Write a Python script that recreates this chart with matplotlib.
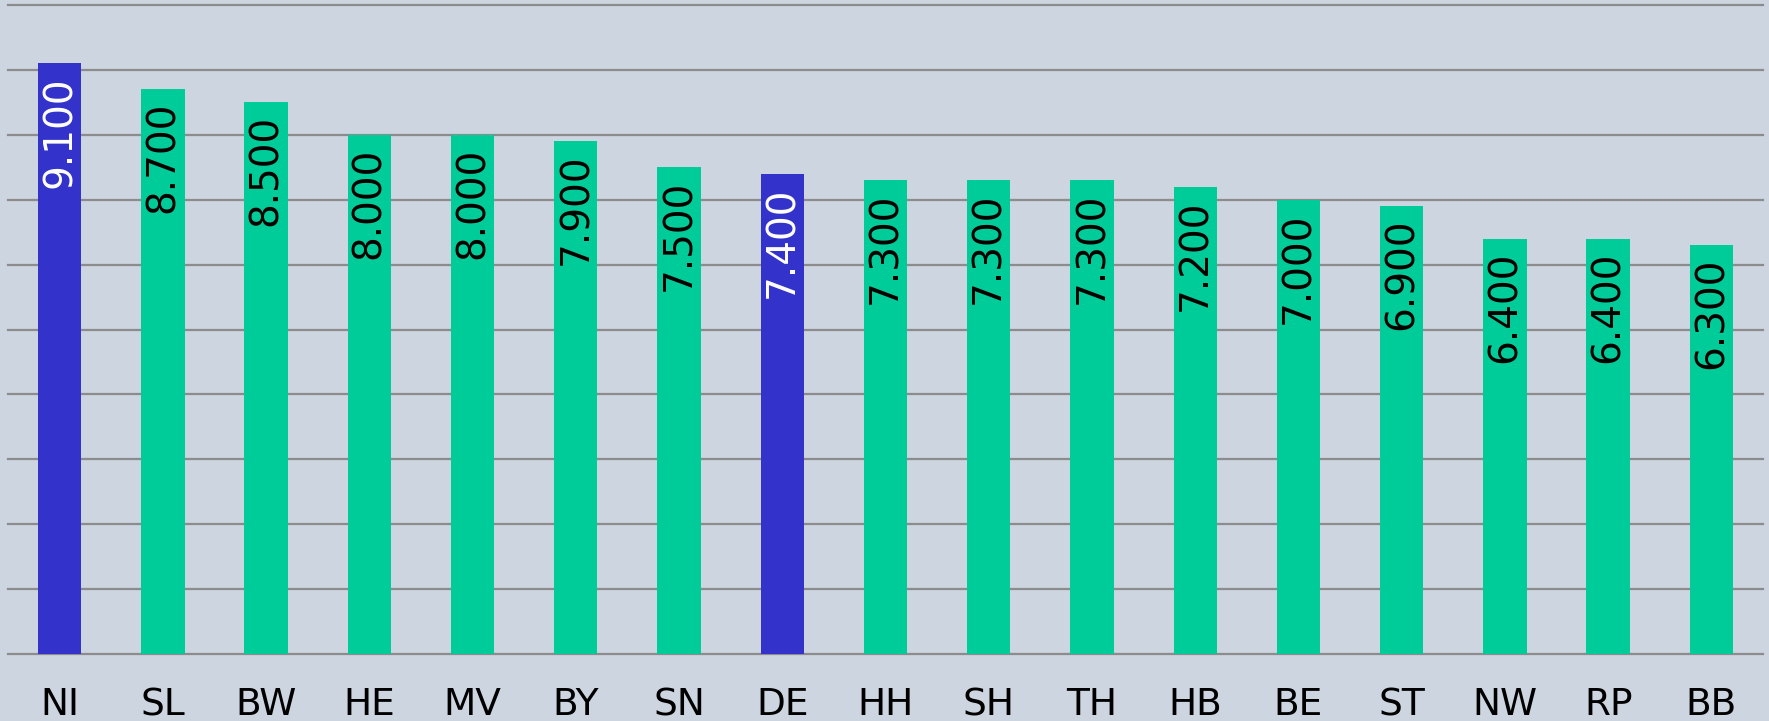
import matplotlib
matplotlib.use("Agg")
import matplotlib.pyplot as plt

# values per state
states = ["NI", "SL", "BW", "HE", "MV", "BY", "SN", "DE", "HH", "SH", "TH", "HB", "BE", "ST", "NW", "RP", "BB"]
values = [9.1, 8.7, 8.5, 8.0, 8.0, 7.9, 7.5, 7.4, 7.3, 7.3, 7.3, 7.2, 7.0, 6.9, 6.4, 6.4, 6.3]
highlight = ["NI", "DE"]

bg = "#CDD5E1"
blue = "#3333CC"
green = "#00CC99"

fig = plt.figure(figsize=(17.69, 7.21), dpi=100, facecolor=bg)
ax = fig.add_axes([8 / 1769, 1 - 654 / 721, 1755 / 1769, 649 / 721], facecolor=bg)

colors = [blue if s in highlight else green for s in states]
x = list(range(len(states)))
ax.bar(x, values, width=0.42, color=colors, zorder=3)

for i, v in enumerate(values):
    tc = "white" if states[i] in highlight else "black"
    ax.annotate(f"{v:.3f}", xy=(i, v), xytext=(0, -9), textcoords="offset points",
                rotation=90, ha="center", va="top", fontsize=28, color=tc, zorder=4)

ax.set_xlim(-0.5, len(states) - 0.5)
ax.set_ylim(0, 10)
ax.set_yticks(range(0, 11))
ax.yaxis.grid(True, color="#8C8C8C", linewidth=1.6, zorder=0)
for gl in ax.get_ygridlines():
    gl.set_clip_on(False)
ax.set_axisbelow(True)
ax.tick_params(axis="y", left=False, labelleft=False)
ax.set_xticks(x)
ax.set_xticklabels(states, fontsize=27)
ax.tick_params(axis="x", length=0, pad=24)
for sp in ax.spines.values():
    sp.set_visible(False)

fig.savefig("out.png", dpi=100, facecolor=bg)
